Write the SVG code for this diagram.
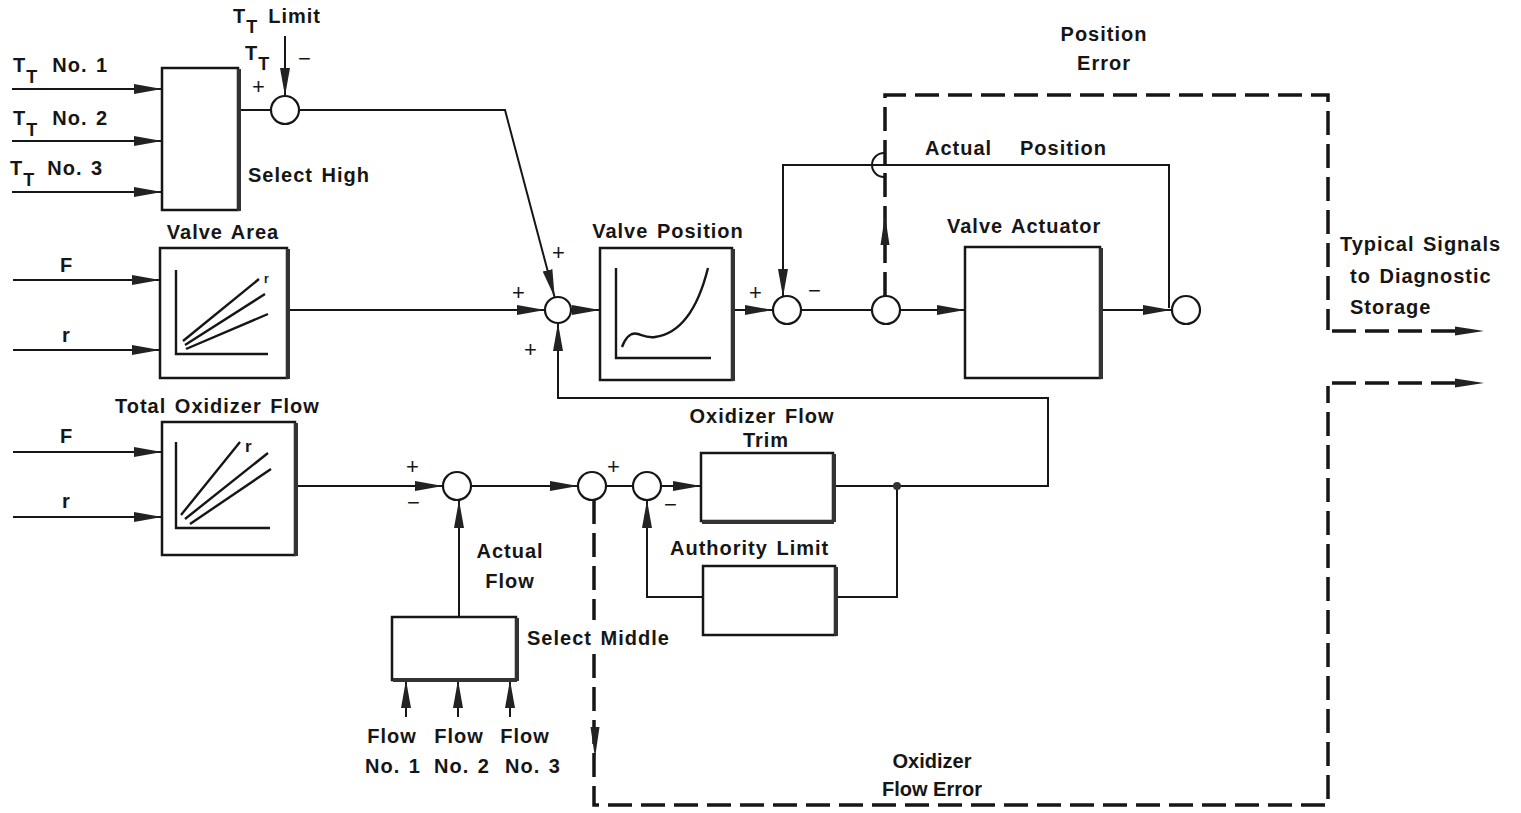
<svg xmlns="http://www.w3.org/2000/svg" width="1521" height="813" viewBox="0 0 1521 813">
<style>
text{font-family:"Liberation Sans",Arial,sans-serif;font-size:20px;font-weight:bold;fill:#161616;letter-spacing:1px;word-spacing:2px}
.sg{font-weight:normal;font-size:22px;letter-spacing:0}
.ln{fill:none;stroke:#161616;stroke-width:2}
.bx{fill:#fff;stroke:#161616;stroke-width:2.5}
.sh{fill:none;stroke:#333;stroke-width:4}
.cr{fill:#fff;stroke:#161616;stroke-width:2.2}
.ds{fill:none;stroke:#161616;stroke-width:3.5;stroke-dasharray:24 9}
.gr{fill:none;stroke:#161616;stroke-width:2.4}
</style>
<defs>
<marker id="ar" markerUnits="userSpaceOnUse" markerWidth="30" markerHeight="12" refX="28" refY="6" orient="auto">
<path d="M0,1 L28,6 L0,11 Z" fill="#222"/>
</marker>
</defs>

<g id="connectors">
<path class="ln" d="M12,89 H162" marker-end="url(#ar)"/>
<path class="ln" d="M12,141 H162" marker-end="url(#ar)"/>
<path class="ln" d="M12,192 H162" marker-end="url(#ar)"/>
<path class="ln" d="M240,110 H271"/>
<path class="ln" d="M285,36 V96" marker-end="url(#ar)"/>
<path class="ln" d="M299,110 H505 L554.7,297.4" marker-end="url(#ar)"/>
<path class="ln" d="M13,280 H160" marker-end="url(#ar)"/>
<path class="ln" d="M13,350 H160" marker-end="url(#ar)"/>
<path class="ln" d="M287,310 H545" marker-end="url(#ar)"/>
<path class="ln" d="M833,486 H1048 V398 H558 V323" marker-end="url(#ar)"/>
<path class="ln" d="M571,310 H600" marker-end="url(#ar)"/>
<path class="ln" d="M732,310 H773" marker-end="url(#ar)"/>
<path class="ln" d="M801,310 H872"/>
<path class="ln" d="M900,310 H965" marker-end="url(#ar)"/>
<path class="ln" d="M1100,310 H1171" marker-end="url(#ar)"/>
<path class="ln" d="M1169,308 V165 H783 V297" marker-end="url(#ar)"/>
<path class="ln" d="M884,153 A12,12 0 0 0 884,177"/>
<path class="ds" d="M885,296 V95 H1328 V330"/>
<path class="ds" d="M1332,331 H1470"/>
<polygon points="1484,331 1455,326.5 1455,335.5" fill="#222"/>
<polygon points="885,215 880.5,245 889.5,245" fill="#222"/>
<path class="ds" d="M594,500 V620"/>
<path class="ds" d="M594,654 V805 H1328 V386"/>
<path class="ds" d="M1332,383 H1470"/>
<polygon points="1484,383 1455,378.5 1455,387.5" fill="#222"/>
<polygon points="595,758 590.5,727 599.5,727" fill="#222"/>
<path class="ln" d="M13,452 H162" marker-end="url(#ar)"/>
<path class="ln" d="M13,517 H162" marker-end="url(#ar)"/>
<path class="ln" d="M295,486 H443" marker-end="url(#ar)"/>
<path class="ln" d="M459,617 V500" marker-end="url(#ar)"/>
<path class="ln" d="M471,486 H578" marker-end="url(#ar)"/>
<path class="ln" d="M606,486 H633"/>
<path class="ln" d="M661,486 H701" marker-end="url(#ar)"/>
<path class="ln" d="M897,486 V597 H835"/>
<path class="ln" d="M703,597 H647 V500" marker-end="url(#ar)"/>
<circle cx="897" cy="486" r="4" fill="#333"/>
<path class="ln" d="M406,717 V680" marker-end="url(#ar)"/>
<path class="ln" d="M458,717 V680" marker-end="url(#ar)"/>
<path class="ln" d="M510,717 V680" marker-end="url(#ar)"/>
</g>

<g id="select-high">
<rect class="bx" x="162" y="68" width="76" height="142"/>
<path class="sh" d="M239,69 V211"/>
<text x="248" y="182">Select High</text>
</g>

<g id="tt-inputs">
<text x="13" y="72">T<tspan font-size="18" dy="11">T</tspan><tspan dy="-11" dx="14">No. 1</tspan></text>
<text x="13" y="125">T<tspan font-size="18" dy="11">T</tspan><tspan dy="-11" dx="14">No. 2</tspan></text>
<text x="10" y="175">T<tspan font-size="18" dy="11">T</tspan><tspan dy="-11" dx="12">No. 3</tspan></text>
<text x="233" y="23">T<tspan font-size="18" dy="10">T</tspan><tspan dy="-10" dx="10">Limit</tspan></text>
<text x="245" y="60">T<tspan font-size="18" dy="10">T</tspan></text>
</g>

<g id="sum-high">
<circle class="cr" cx="285" cy="110" r="14"/>
<text class="sg" x="252" y="94">+</text>
<text class="sg" x="298" y="66">−</text>
</g>

<g id="valve-area">
<rect class="bx" x="160" y="248" width="127" height="130"/>
<path class="sh" d="M288,249 V379"/>
<path class="gr" d="M176,270 V354 H268 M183,341 L259,279 M185,345 L265,294 M186,349 L268,314"/>
<text x="264" y="283" style="font-size:12px;letter-spacing:0">r</text>
<text x="223" y="239" text-anchor="middle">Valve Area</text>
<text x="60" y="272">F</text>
<text x="62" y="342">r</text>
</g>

<g id="total-oxidizer-flow">
<rect class="bx" x="162" y="422" width="133" height="133"/>
<path class="sh" d="M296,423 V556"/>
<path class="gr" d="M176,442 V528 H270 M181,515 L240,442 M185,519 L268,453 M190,524 L271,469"/>
<text x="245" y="452" style="font-size:17px;letter-spacing:0">r</text>
<text x="115" y="413">Total Oxidizer Flow</text>
<text x="60" y="443">F</text>
<text x="62" y="508">r</text>
</g>

<g id="sum-main">
<circle class="cr" cx="558" cy="310" r="13"/>
<text class="sg" x="552" y="260">+</text>
<text class="sg" x="512" y="300">+</text>
<text class="sg" x="524" y="357">+</text>
</g>

<g id="valve-position">
<rect class="bx" x="600" y="248" width="132" height="132"/>
<path class="sh" d="M733,249 V381"/>
<path class="gr" d="M616,268 V358 H711"/>
<path class="gr" d="M622,347 C626,336 632,332 638,334 C644,336 648,338 655,337 C685,333 700,300 708,268"/>
<text x="668" y="238" text-anchor="middle">Valve Position</text>
</g>

<g id="sum-position">
<circle class="cr" cx="787" cy="310" r="14"/>
<text class="sg" x="749" y="300">+</text>
<text class="sg" x="808" y="298">−</text>
</g>

<g id="pickoff-position">
<circle class="cr" cx="886" cy="310" r="14"/>
</g>

<g id="valve-actuator">
<rect class="bx" x="965" y="247" width="135" height="131"/>
<path class="sh" d="M1101,248 V379"/>
<text x="947" y="233">Valve Actuator</text>
<text x="925" y="155">Actual</text>
<text x="1020" y="155">Position</text>
</g>

<g id="actual-position">
<circle class="cr" cx="1186" cy="310" r="14"/>
</g>

<g id="labels-right">
<text x="1104" y="41" text-anchor="middle">Position</text>
<text x="1104" y="70" text-anchor="middle">Error</text>
<text x="1340" y="251">Typical Signals</text>
<text x="1350" y="283">to Diagnostic</text>
<text x="1350" y="314">Storage</text>
<text x="932" y="768" text-anchor="middle" style="letter-spacing:0">Oxidizer</text>
<text x="932" y="796" text-anchor="middle" style="letter-spacing:0;word-spacing:0">Flow Error</text>
</g>

<g id="sum-flow">
<circle class="cr" cx="457" cy="486" r="14"/>
<text class="sg" x="406" y="474">+</text>
<text class="sg" x="407" y="510">−</text>
<text x="510" y="558" text-anchor="middle">Actual</text>
<text x="510" y="588" text-anchor="middle">Flow</text>
</g>

<g id="sum-error">
<circle class="cr" cx="592" cy="486" r="14"/>
<text class="sg" x="607" y="474">+</text>
</g>

<g id="sum-trim">
<circle class="cr" cx="647" cy="486" r="14"/>
<text class="sg" x="664" y="512">−</text>
</g>

<g id="flow-trim">
<rect class="bx" x="701" y="453" width="132" height="68"/>
<path class="sh" d="M834,454 V522 M702,522 H834"/>
<text x="762" y="423" text-anchor="middle">Oxidizer Flow</text>
<text x="766" y="447" text-anchor="middle">Trim</text>
</g>

<g id="authority-limit">
<rect class="bx" x="703" y="566" width="132" height="69"/>
<path class="sh" d="M836,567 V636"/>
<text x="670" y="555">Authority Limit</text>
</g>

<g id="select-middle">
<rect class="bx" x="392" y="617" width="124" height="63"/>
<path class="sh" d="M517,618 V681 M393,680 H517"/>
<text x="527" y="645">Select Middle</text>
<text x="392" y="743" text-anchor="middle">Flow</text>
<text x="459" y="743" text-anchor="middle">Flow</text>
<text x="525" y="743" text-anchor="middle">Flow</text>
<text x="393" y="773" text-anchor="middle">No. 1</text>
<text x="462" y="773" text-anchor="middle">No. 2</text>
<text x="533" y="773" text-anchor="middle">No. 3</text>
</g>
</svg>
